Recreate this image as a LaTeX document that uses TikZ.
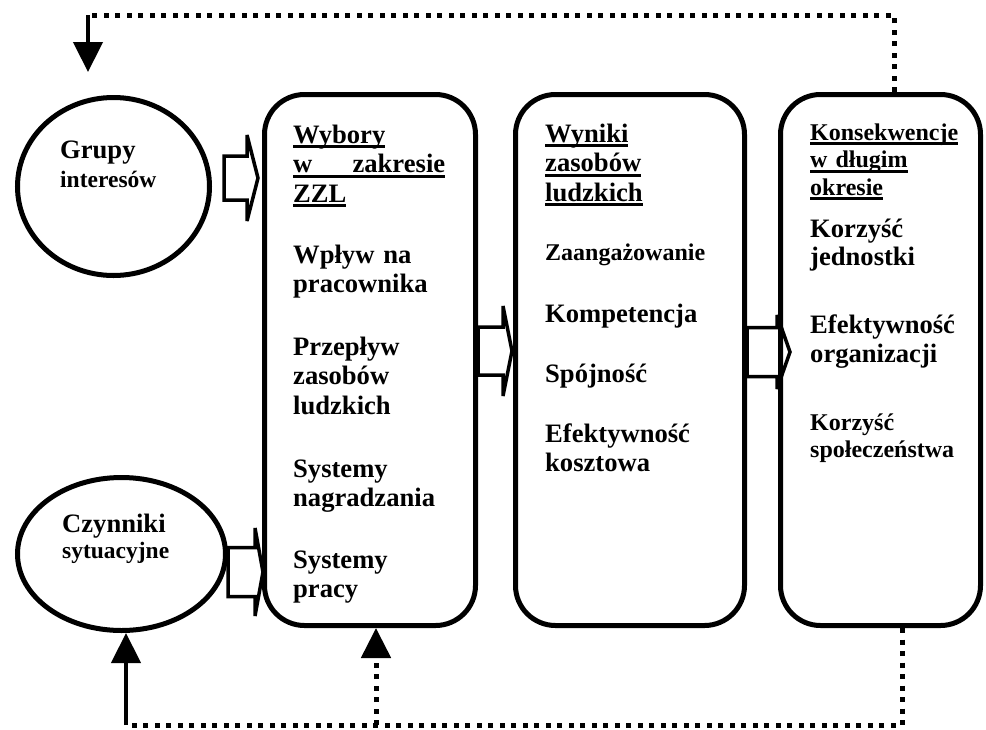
\documentclass[tikz,border=0pt]{standalone}
\usepackage{fontspec}
\setmainfont{Liberation Serif}
\usetikzlibrary{shapes.geometric,arrows.meta,calc}

% 带下划线的标题行
\newcommand{\ulword}[1]{\leavevmode\setbox0\hbox{#1}\rlap{\rule[-5pt]{\wd0}{2.6pt}}\box0}
% 宽箭头：起点，箭身长，箭身半高，箭头半高，箭头长
\newcommand{\blockarrow}[5]{\draw[blockarr] (#1) ++(0,-#3) -- ++(#2,0) -- ++(0,{#3-#4}) -- ++(#5,#4) -- ++({-#5},#4) -- ++(0,{#3-#4}) -- ++({-#2},0) -- cycle;}

\tikzset{
	oval/.style={ellipse, draw, line width=5pt, inner sep=0pt},
	panel/.style={draw, line width=5pt, rounded corners=40pt, minimum height=531pt, inner sep=0pt},
	txt/.style={anchor=base west, inner sep=0pt, text width=190pt, align=left, font=\fontsize{26.6}{29.5}\selectfont\bfseries},
	smalltxt/.style={font=\fontsize{24}{27.5}\selectfont\bfseries},
	feedback/.style={line width=5pt, dash pattern=on 5pt off 6.5pt},
	blockarr/.style={line width=3.5pt, line join=miter, miter limit=4},
	headtip/.style={-{Triangle[width=29pt,length=30pt]}}
}

\begin{document}
\begin{tikzpicture}[x=1pt, y=-1pt]
	\useasboundingbox (0,0) rectangle (986,729);
	
	% 左侧两个椭圆
	\node[oval, minimum width=192pt, minimum height=178pt] (grupy) at (113.5,186.5) {};
	\node[oval, minimum width=208pt, minimum height=153pt] (czynniki) at (121.5,554) {};
	\node[txt] (grupytxt) at (60,158) {Grupy\\{\fontsize{23.5}{28}\selectfont interesów}};
	\node[txt, font=\fontsize{26.6}{26}\selectfont\bfseries] (czynnikitxt) at (62,532) {Czynniki\\{\fontsize{23.5}{26}\selectfont sytuacyjne}};
	
	% 宽箭头（先画，圆角框压在上面）
	\coordinate (a1) at ($(grupy.east)+(12,-8.5)$);
	\coordinate (a2) at ($(czynniki.east)+(0,18)$);
	\coordinate (a3) at (478,351);
	\coordinate (a4) at (747,352);
	\blockarrow{a1}{23}{22}{43}{11}
	\blockarrow{a2}{27}{24.5}{44}{8}
	\blockarrow{a3}{25}{24}{45}{9}
	\blockarrow{a4}{30}{24.5}{37}{13}
	
	% 三个圆角框
	\node[panel, minimum width=211pt] (box1) at (370,360) {};
	\node[panel, minimum width=229pt] (box2) at (630,360) {};
	\node[panel, minimum width=200pt] (box3) at (880.5,360) {};
	
	% 第一框：ZZL 选择
	\node[txt] (zzl) at (293,143) {\ulword{Wybory}\\\ulword{\hbox to 152pt{w\hfill zakresie}}\\\ulword{ZZL}};
	\node[txt] (wplyw) at (293,263) {Wpływ na\\pracownika};
	\node[txt] (przeplyw) at (293,355) {Przepływ\\zasobów\\ludzkich};
	\node[txt] (nagr) at (293,477) {Systemy\\nagradzania};
	\node[txt] (praca) at (293,568) {Systemy\\pracy};
	
	% 第二框：结果
	\node[txt] (wyniki) at (545,142) {\ulword{Wyniki}\\\ulword{zasobów}\\\ulword{ludzkich}};
	\node[txt, smalltxt] (zaang) at (545,260) {Zaangażowanie};
	\node[txt] (komp) at (545,322) {Kompetencja};
	\node[txt] (spoj) at (545,382) {Spójność};
	\node[txt] (koszt) at (545,442) {Efektywność\\kosztowa};
	
	% 第三框：长期后果
	\node[txt, smalltxt] (kons) at (810,140) {\ulword{Konsekwencje}\\\ulword{w długim}\\\ulword{okresie}};
	\node[txt, font=\fontsize{26.6}{28}\selectfont\bfseries] (jedn) at (810,237) {Korzyść\\jednostki};
	\node[txt] (org) at (810,333) {Efektywność\\organizacji};
	\node[txt, smalltxt] (spol) at (810,430) {Korzyść\\społeczeństwa};
	
	% 上方反馈虚线
	\coordinate (fbright) at (894,15);
	\coordinate (fbtop) at (88,15);
	\coordinate (fbend) at (88,72);
	\draw[feedback] (box3.north -| fbright) -- (fbright) -- (fbtop);
	\draw[line width=4.5pt, headtip] (fbtop) -- (fbend);
	
	% 下方反馈虚线
	\coordinate (fbbr) at (902,725);
	\coordinate (fbbl) at (126,725);
	\coordinate (fbmid) at (376,725);
	\draw[feedback] (box3.south -| fbbr) -- (fbbr) -- (fbbl);
	\draw[line width=4.5pt, headtip] (fbbl) -- (fbbl |- czynniki.south);
	\draw[feedback, headtip] (fbmid) -- (fbmid |- box1.south);
\end{tikzpicture}
\end{document}
